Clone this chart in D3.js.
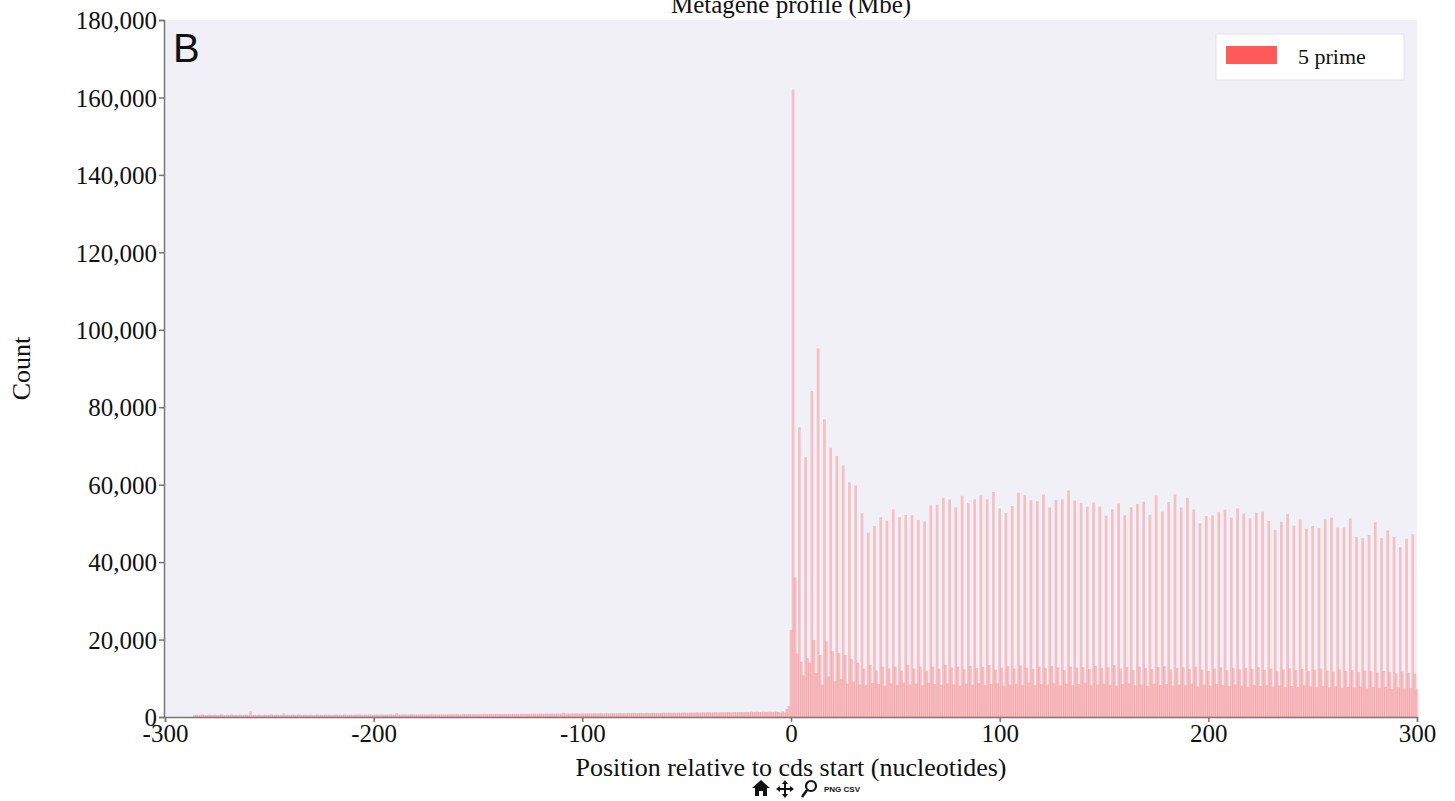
<!DOCTYPE html>
<html>
<head>
  <meta charset="UTF-8">
  <style>
    body { margin: 0; background: #fff; }
    svg text { font-family: "Liberation Serif", "Times New Roman", serif; fill: #111; }
  </style>
</head>
<body>
<svg id="chart"></svg>
<script src="https://d3js.org/d3.v7.min.js"></script>
<script>
// read counts upstream of the start codon, positions -286 .. -1
const upstreamStart = -286;
const upstreamCounts = [
  500,620,480,550,700,530,460,610,580,520,650,490,560,720,540,470,600,510,680,530,
  560,490,630,520,580,610,470,1450,540,590,520,660,500,570,620,480,550,700,530,590,
  610,520,570,900,540,600,480,630,560,520,680,590,500,610,550,580,640,510,570,620,
  540,600,520,650,570,610,490,580,640,550,600,530,670,560,590,620,540,610,580,650,
  600,560,630,580,700,610,570,640,590,620,660,580,630,600,680,620,590,1050,610,640,
  620,680,600,650,710,630,670,620,690,640,700,660,620,680,730,650,690,640,710,670,
  700,660,720,680,750,690,730,700,680,760,720,690,740,710,770,730,700,750,720,790,
  740,710,780,730,760,800,740,780,720,810,760,790,750,820,770,800,760,830,790,810,
  780,830,800,850,790,820,860,810,840,880,820,850,870,830,900,850,880,1100,860,890,
  850,900,870,920,880,860,930,890,910,950,880,920,960,900,940,970,910,950,990,930,
  960,1000,940,980,1020,970,1000,950,1040,990,1010,1050,980,1030,1060,1000,1040,1080,1010,1050,
  1070,1020,1090,1040,1060,1100,1050,1080,1120,1060,1100,1070,1130,1090,1110,1150,1080,1120,1160,1100,
  1140,1180,1110,1150,1190,1130,1170,1210,1150,1190,1230,1160,1200,1240,1180,1220,1260,1190,1230,1270,
  1210,1250,1290,1230,1270,1310,1250,1400,1280,1320,1360,1290,1340,1380,1310,1350,1400,1330,1380,1420,
  1300,1100,1450,1200,2100,2800
];

// downstream, in thousands, one list per reading frame
// frame 0: positions 0, 3, 6 ... 300
const frame0K = [
  22.5,16.4,10.8,14,11.4,8.3,10.5,9.2,9.8,8.6,9.1,8.4,8.2,8.8,8.5,8.1,8.7,8.3,8.9,8.4,8.6,8.2,8.8,8.5,8.3,
  8.7,8.4,8.1,8.6,8.3,8.8,8.2,8.5,8.7,8.1,8.4,8.6,8.3,8.9,8.2,8.5,8.4,8.7,8.1,8.6,8.3,8.5,8.8,8.2,8.4,
  8.6,8.3,8.1,8.5,8.7,8.2,8.4,8.0,8.6,8.3,8.5,8.1,8.4,8.2,8.6,7.9,8.3,8.1,8.5,8.2,8.0,8.4,8.1,7.8,8.3,
  8.0,8.2,7.9,8.1,7.7,8.0,7.8,8.2,7.9,7.6,8.0,7.7,7.9,7.5,7.8,7.6,7.9,7.4,7.7,7.5,7.8,7.3,7.6,7.4,7.5,7.2
];
// frame 1: positions 1, 4, 7 ... 298
const frame1K = [
  162,74.8,67.1,84.2,95.2,76.9,69.5,67.4,64.9,60.6,59.8,52.6,47.6,49.3,51.6,50.7,53.6,51.6,52.2,52.1,50.9,50.5,54.6,54.8,56.6,
  56.2,54.1,57.1,55.2,56.2,57.2,56.2,58.1,53.9,52.7,54.5,57.9,57.3,56.0,55.7,57.5,54.1,56.0,56.2,58.5,55.9,55.3,54.3,55.4,54.3,
  52.0,53.6,55.1,52.1,54.2,55.0,55.6,52.2,57.2,53.0,55.5,57.5,54.1,56.6,53.6,50.0,51.9,52.1,52.9,53.5,51.5,53.9,52.5,51.3,
  52.8,53.0,50.6,48.3,50.4,52.4,49.4,51.0,48.6,49.3,48.8,51.0,51.5,48.9,48.9,51.3,46.5,46.2,47.0,50.3,46.2,48.2,46.5,43.9,46.0,47.2
];
// frame 2: positions 2, 5, 8 ... 299
const frame2K = [
  36,14.3,15.2,19.9,16,19.5,17,16.5,16,15,14,12.5,13.5,12,13,12.5,13,12,13.5,12.5,13,12,13,12.5,13.5,
  12.8,13,12.3,13.2,12.6,12.9,13.4,12.2,12.8,13.1,12.5,13.3,12.7,12.4,13,12.6,13.2,12.8,12.1,13,12.7,12.9,12.4,13.2,12.6,
  12.8,13.4,12.5,12.9,12.2,13,12.7,12.4,12.9,13.1,12.3,12.6,12.8,12.4,13,12.2,11.9,12.5,12.8,12.1,12.6,12.3,12.7,12.4,12.9,
  12.2,12.5,11.8,12.3,12.6,12.1,12.4,11.9,12.2,12.5,12,11.7,12.3,11.9,12.1,11.6,12,11.8,11.5,11.9,11.6,11.3,11.7,11.4,11.2
];

const xTicks = [-300, -200, -100, 0, 100, 200, 300];
const yTicks = [0, 20000, 40000, 60000, 80000, 100000, 120000, 140000, 160000, 180000];
const seriesName = "5 prime";

const width = 1455, height = 801;
const margin = {left: 165, right: 38, top: 20, bottom: 84};

let bars = [];
upstreamCounts.forEach((v, i) => bars.push({pos: upstreamStart + i, count: v}));
frame0K.forEach((v, i) => bars.push({pos: 3 * i, count: v * 1000}));
frame1K.forEach((v, i) => bars.push({pos: 3 * i + 1, count: v * 1000}));
frame2K.forEach((v, i) => bars.push({pos: 3 * i + 2, count: v * 1000}));

let svg = d3.select("#chart")
  .attr("width", width)
  .attr("height", height);

let x = d3.scaleLinear()
  .domain([-300, 300])
  .range([margin.left, width - margin.right]);

let y = d3.scaleLinear()
  .domain([0, 180000])
  .range([height - margin.bottom, margin.top]);

// plot background
svg.append("rect")
  .attr("x", x(-300))
  .attr("y", y(180000))
  .attr("width", x(300) - x(-300))
  .attr("height", y(0) - y(180000))
  .attr("fill", "#f0f0f6");

let bw = (x(1) - x(0)) * 1.3;

svg.append("g")
  .selectAll("rect")
  .data(bars)
  .enter()
  .append("rect")
    .attr("x", d => x(d.pos) - bw / 2)
    .attr("y", d => y(d.count))
    .attr("width", bw)
    .attr("height", d => y(0) - y(d.count))
    .attr("fill", "#ff5a5a")
    .attr("fill-opacity", 0.32);

// axes
let yAxis = svg.append("g")
  .attr("transform", "translate(" + (x(-300) - 1) + ",0)")
  .call(d3.axisLeft(y).tickValues(yTicks).tickFormat(d3.format(",")).tickSize(5).tickPadding(2));

let xAxis = svg.append("g")
  .attr("transform", "translate(0," + y(0) + ")")
  .call(d3.axisBottom(x).tickValues(xTicks).tickFormat(d => String(d)).tickSize(5).tickPadding(1));

[xAxis, yAxis].forEach(a => {
  a.selectAll("path, line").attr("stroke", "#777").attr("stroke-width", 1.5);
  a.selectAll("text")
    .style("font-family", "'Liberation Serif', serif")
    .style("font-size", "25px")
    .attr("fill", "#111");
});
yAxis.selectAll("text").attr("dy", "0.35em");
xAxis.selectAll("text").attr("dy", "0.75em");

// titles
svg.append("text")
  .attr("x", (x(-300) + x(300)) / 2)
  .attr("y", 13)
  .attr("text-anchor", "middle")
  .style("font-size", "25px")
  .text("Metagene profile (Mbe)");

svg.append("text")
  .attr("x", (x(-300) + x(300)) / 2)
  .attr("y", 776)
  .attr("text-anchor", "middle")
  .style("font-size", "26px")
  .text("Position relative to cds start (nucleotides)");

svg.append("text")
  .attr("transform", "translate(30," + ((y(0) + y(180000)) / 2) + ") rotate(-90)")
  .attr("text-anchor", "middle")
  .style("font-size", "26px")
  .text("Count");

svg.append("text")
  .attr("x", 173)
  .attr("y", 62)
  .style("font-family", "'Liberation Sans', Arial, sans-serif")
  .style("font-size", "40px")
  .text("B");

// legend
let legend = svg.append("g").attr("transform", "translate(1216,34)");
legend.append("rect")
  .attr("width", 188).attr("height", 46)
  .attr("fill", "#fff")
  .attr("stroke", "#e2e2f0");
legend.append("rect")
  .attr("x", 10).attr("y", 12)
  .attr("width", 51).attr("height", 18)
  .attr("fill", "#ff5a5a");
legend.append("text")
  .attr("x", 82).attr("y", 30)
  .style("font-size", "22px")
  .text(seriesName);

// little toolbar under the axis
let tb = svg.append("g").attr("transform", "translate(752,780)").attr("fill", "#111");
tb.append("path")
  .attr("d", "M0,8 L9,0 L18,8 L15,8 L15,16 L11,16 L11,11 L7,11 L7,16 L3,16 L3,8 Z");
tb.append("path")
  .attr("transform", "translate(24,0)")
  .attr("d", "M9,0 L12,4 L10,4 L10,8 L14,8 L14,6 L18,9 L14,12 L14,10 L10,10 L10,14 L12,14 L9,18 L6,14 L8,14 L8,10 L4,10 L4,12 L0,9 L4,6 L4,8 L8,8 L8,4 L6,4 Z");
tb.append("circle")
  .attr("cx", 59).attr("cy", 6).attr("r", 5)
  .attr("fill", "none").attr("stroke", "#111").attr("stroke-width", 2.2);
tb.append("line")
  .attr("x1", 55).attr("y1", 10).attr("x2", 50).attr("y2", 17)
  .attr("stroke", "#111").attr("stroke-width", 2.5);
tb.append("text")
  .attr("x", 72).attr("y", 12)
  .style("font-family", "'Liberation Sans', sans-serif")
  .style("font-size", "8px")
  .style("font-weight", "bold")
  .text("PNG  CSV");
</script>
</body>
</html>
